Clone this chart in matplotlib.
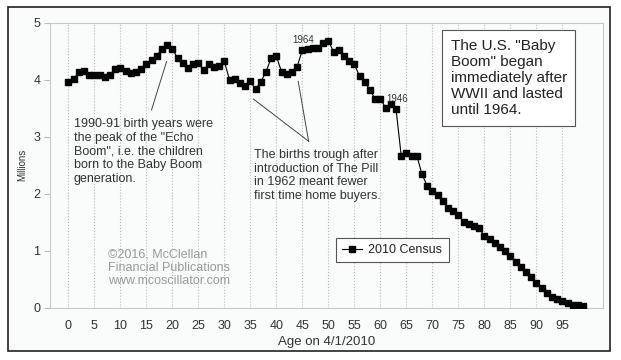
import matplotlib
matplotlib.use('Agg')
from matplotlib import pyplot as plt
from matplotlib.patches import Rectangle

plt.rcParams['font.family'] = ['Liberation Sans', 'DejaVu Sans']

# 2010 Census population by single year of age, millions
ages = list(range(100))
population = [
    3.96, 4.01, 4.13, 4.15, 4.09, 4.08, 4.09, 4.05, 4.08, 4.18,
    4.20, 4.15, 4.12, 4.14, 4.19, 4.27, 4.35, 4.42, 4.54, 4.61,
    4.54, 4.38, 4.29, 4.21, 4.28, 4.29, 4.17, 4.27, 4.23, 4.24,
    4.32, 4.00, 4.01, 3.95, 3.89, 3.97, 3.83, 3.96, 4.14, 4.38,
    4.41, 4.14, 4.10, 4.13, 4.23, 4.52, 4.54, 4.55, 4.55, 4.64,
    4.68, 4.49, 4.52, 4.41, 4.32, 4.27, 4.06, 3.96, 3.82, 3.66,
    3.66, 3.51, 3.58, 3.49, 2.67, 2.71, 2.66, 2.67, 2.34, 2.14,
    2.05, 1.97, 1.88, 1.75, 1.70, 1.63, 1.50, 1.47, 1.43, 1.39,
    1.26, 1.20, 1.13, 1.06, 0.99, 0.91, 0.81, 0.72, 0.63, 0.53,
    0.43, 0.34, 0.26, 0.19, 0.15, 0.11, 0.08, 0.05, 0.04, 0.03,
]
xticks = list(range(0, 100, 5))
yticks = [0, 1, 2, 3, 4, 5]

text_col = '#333333'
bg = '#fafbfb'

fig = plt.figure(figsize=(6.21, 3.6), dpi=100)
fig.patch.set_facecolor('white')
frame = Rectangle((8 / 621, 9 / 360), 602 / 621, 344 / 360,
                  transform=fig.transFigure, facecolor=bg,
                  edgecolor='#222222', linewidth=1.2, zorder=-10)
fig.patches.append(frame)

ax = fig.add_axes([50 / 621, 52.3 / 360, 553 / 621, 285 / 360])
ax.set_zorder(1)
ax.set_facecolor(bg)
ax.plot(ages, population, color='black', linewidth=0.8, marker='s',
        markersize=3.7, label='2010 Census', zorder=3)

ax.set_xlim(-3.52, 102.8)
ax.set_ylim(0, 5)
ax.set_xticks(xticks)
ax.set_yticks(yticks)
ax.tick_params(axis='x', length=0, pad=9, labelsize=9, labelcolor=text_col)
ax.tick_params(axis='y', length=4, width=0.8, color='#bbbbbb', pad=3,
               labelsize=9, labelcolor=text_col)
ax.grid(axis='x', linestyle=':', color='#bbbbbb', linewidth=0.8)
for s in ax.spines.values():
    s.set_color('#c8c8c8')
    s.set_linewidth(0.8)

ax.set_xlabel('Age on 4/1/2010', fontsize=9.5, color=text_col, labelpad=3)
ax.set_ylabel('Millions', fontsize=7, color=text_col, labelpad=4)

# annotations
ax.text(1.0, 3.32,
        '1990-91 birth years were\nthe peak of the "Echo\nBoom", i.e. the children\n'
        'born to the Baby Boom\ngeneration.',
        fontsize=9, color=text_col, va='top', ha='left', linespacing=1.18)
ax.plot([16.0, 18.9], [3.47, 4.32], color='#444444', linewidth=0.7)

ax.text(35.7, 2.78,
        'The births trough after\nintroduction of The Pill\nin 1962 meant fewer\n'
        'first time home buyers.',
        fontsize=9, color=text_col, va='top', ha='left', linespacing=1.18)
ax.plot([35.6, 46.2], [3.66, 2.92], color='#444444', linewidth=0.7)
ax.plot([44.2, 46.2], [3.97, 2.92], color='#444444', linewidth=0.7)

ax.text(45.1, 4.70, '1964', fontsize=7, color=text_col, ha='center', va='center')
ax.text(63.2, 3.67, '1946', fontsize=7, color=text_col, ha='center', va='center')

ax.text(7.6, 1.04,
        '\u00a92016, McClellan\nFinancial Publications\nwww.mcoscillator.com',
        fontsize=9, color='#999999', va='top', ha='left', linespacing=1.15)

ax.text(73.5, 4.72,
        'The U.S. "Baby\nBoom" began\nimmediately after\nWWII and lasted\nuntil 1964.',
        fontsize=11, color='#222222', va='top', ha='left', linespacing=1.2,
        bbox=dict(boxstyle='square,pad=0.55', facecolor='white',
                  edgecolor='#555555', linewidth=0.8))

leg = ax.legend(loc='lower left', bbox_to_anchor=(0.517, 0.159), fontsize=9,
                frameon=True, fancybox=False, handlelength=1.6,
                borderpad=0.5, handletextpad=0.5, borderaxespad=0)
leg.get_frame().set_edgecolor('#555555')
leg.get_frame().set_linewidth(0.8)
leg.get_frame().set_facecolor('white')
leg.get_frame().set_alpha(1)
for t in leg.get_texts():
    t.set_color('#222222')

fig.savefig('out.png', dpi=100)
